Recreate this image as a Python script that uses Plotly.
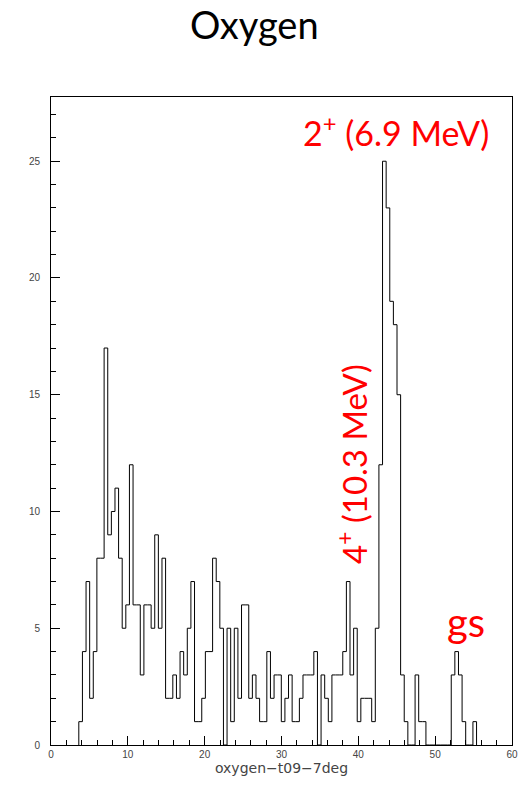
import numpy as np
import plotly.graph_objects as go

# Histogram data
bin_start = 3.62
bin_width = 0.4706
counts = [1, 4, 7, 2, 4, 8, 8, 17, 9, 10,
          11, 8, 5, 6, 12, 6, 6, 3, 6, 6,
          5, 9, 5, 8, 2, 2, 3, 2, 4, 3,
          5, 7, 1, 1, 2, 4, 4, 8, 7, 5,
          0, 5, 1, 5, 2, 6, 6, 2, 3, 2,
          1, 1, 4, 2, 3, 3, 1, 2, 3, 1,
          1, 2, 3, 3, 3, 4, 0, 3, 2, 1,
          3, 3, 3, 4, 7, 3, 5, 1, 2, 2,
          2, 1, 5, 12, 25, 23, 19, 18, 15, 3,
          1, 0, 0, 3, 1, 1, 0, 0, 0, 0,
          0, 0, 0, 3, 4, 3, 1, 0, 0, 1]

x_range = [0, 60]
y_range = [0, 27.75]
x_ticks = [0, 10, 20, 30, 40, 50, 60]
y_ticks = [0, 5, 10, 15, 20, 25]

title_text = "Oxygen"
x_title = "oxygen\u2212t09\u22127deg"
labels = [
    dict(text="2<sup>+</sup> (6.9 MeV)", x=44.9, y=26.3, angle=0, size=34),
    dict(text="4<sup>+</sup> (10.3 MeV)", x=39.1, y=12.05, angle=-90, size=33),
    dict(text="gs", x=54.0, y=5.25, angle=0, size=40),
]

edges = bin_start + bin_width * np.arange(len(counts) + 1)
xs = np.concatenate([[edges[0]], edges])
ys = np.concatenate([[0], counts, [0]])

fig = go.Figure()
fig.add_trace(go.Scatter(
    x=xs, y=ys, mode="lines", line=dict(shape="hv", color="black", width=1),
    hoverinfo="skip", showlegend=False))

axis_font = dict(family="Liberation Sans, Arial, sans-serif", size=10, color="#444444")

fig.update_xaxes(
    range=x_range, tickvals=x_ticks, ticks="inside", ticklen=9, tickcolor="black",
    tickwidth=1, showline=True, linecolor="black", linewidth=1, mirror=True,
    showgrid=False, zeroline=False, tickfont=axis_font,
    minor=dict(dtick=2, ticks="inside", ticklen=5, tickcolor="black", showgrid=False),
    title=dict(text=x_title, font=dict(family="DejaVu Sans, sans-serif", size=14, color="#444444"), standoff=3),
)
fig.update_yaxes(
    range=y_range, tickvals=y_ticks, ticks="inside", ticklen=9, tickcolor="black",
    tickwidth=1, showline=True, linecolor="black", linewidth=1, mirror=True,
    showgrid=False, zeroline=False, tickfont=axis_font, ticklabelstandoff=8,
    minor=dict(dtick=1, ticks="inside", ticklen=5, tickcolor="black", showgrid=False),
)

for lab in labels:
    fig.add_annotation(
        text=lab["text"], x=lab["x"], y=lab["y"], xref="x", yref="y",
        showarrow=False, textangle=lab["angle"],
        font=dict(family="Lato, Open Sans, sans-serif", size=lab["size"], color="#ff0000"),
        xanchor="center", yanchor="middle")

fig.update_layout(
    width=519, height=785,
    margin=dict(l=51, r=7, t=97, b=40, autoexpand=False),
    paper_bgcolor="white", plot_bgcolor="white",
    title=dict(text=title_text, x=0.49, xanchor="center", y=0.967, yanchor="middle",
               font=dict(family="Lato, Open Sans, sans-serif", size=38, color="black")),
)

fig.write_html("out.html")
